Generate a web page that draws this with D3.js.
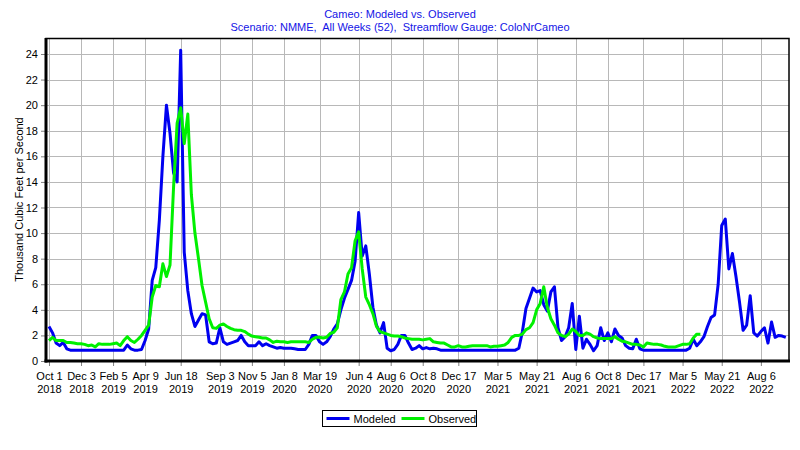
<!DOCTYPE html>
<html>
<head>
<meta charset="utf-8">
<script src="https://cdn.jsdelivr.net/npm/d3@7"></script>
<style>
  body { margin: 0; background: #fff; }
  svg { display: block; font-family: "Liberation Sans", Arial, sans-serif; }
</style>
</head>
<body>
<svg id="chart" width="800" height="450"></svg>
<script>
// ---------- data ----------
const titleLines = [
  "Cameo: Modeled vs. Observed",
  "Scenario: NMME,  All Weeks (52),  Streamflow Gauge: ColoNrCameo"
];
const yAxisTitle = "Thousand Cubic Feet per Second";
const seriesNames = ["Modeled", "Observed"];

// week index (52 weeks per water year, starting Oct 1 2018) of each date tick
const tickIndex = [0, 9, 18, 27, 37, 48, 57, 66, 76, 87, 96, 105, 115, 126, 137, 148, 157, 167, 178, 189, 200];
const tickDay = ["Oct 1", "Dec 3", "Feb 5", "Apr 9", "Jun 18", "Sep 3", "Nov 5", "Jan 8", "Mar 19", "Jun 4", "Aug 6",
                 "Oct 8", "Dec 17", "Mar 5", "May 21", "Aug 6", "Oct 8", "Dec 17", "Mar 5", "May 21", "Aug 6"];
const tickYear = ["2018", "2018", "2019", "2019", "2019", "2019", "2019", "2020", "2020", "2020", "2020",
                  "2020", "2020", "2021", "2021", "2021", "2021", "2021", "2022", "2022", "2022"];
const yTicks = [0, 2, 4, 6, 8, 10, 12, 14, 16, 18, 20, 22, 24];

// weekly flows, thousand cfs
const modeled = [
  2.7, 2.2, 1.4, 1.2, 1.45, 0.95, 0.85, 0.85, 0.85, 0.85,
  0.85, 0.85, 0.85, 0.85, 0.85, 0.85, 0.85, 0.85, 0.85, 0.85,
  0.85, 0.85, 1.25, 0.95, 0.85, 0.85, 0.9, 1.6, 2.5, 6.3,
  7.3, 11.0, 16.0, 20.0, 17.8, 14.7, 14.0, 24.3, 8.5, 5.5,
  3.7, 2.7, 3.2, 3.7, 3.6, 1.5, 1.35, 1.4, 2.6, 1.5,
  1.3, 1.4, 1.5, 1.6, 2.0, 1.5, 1.2, 1.2, 1.2, 1.5,
  1.2, 1.35, 1.2, 1.1, 1.0, 1.05, 1.0, 1.0, 1.0, 0.95,
  0.9, 0.9, 0.9, 1.3, 2.0, 2.0, 1.5, 1.3, 1.5, 1.9,
  2.5, 2.9, 4.0, 4.9, 5.6, 6.3, 7.8, 11.6, 8.2, 9.0,
  6.8, 4.2, 2.8, 2.2, 3.0, 1.0, 0.8, 0.9, 1.3, 2.0,
  2.0, 1.4, 0.9, 1.0, 1.2, 0.95, 1.05, 0.95, 1.0, 0.95,
  0.85, 0.85, 0.85, 0.85, 0.85, 0.85, 0.85, 0.85, 0.85, 0.85,
  0.85, 0.85, 0.85, 0.85, 0.85, 0.85, 0.85, 0.85, 0.85, 0.85,
  0.85, 0.85, 1.0, 2.3, 4.1, 4.9, 5.7, 5.4, 5.5, 4.4,
  3.9, 5.4, 5.8, 2.6, 1.6, 1.9, 2.6, 4.5, 0.9, 3.5,
  1.0, 1.7, 1.3, 0.8, 1.2, 2.6, 1.6, 2.2, 1.5, 2.5,
  2.0, 1.8, 1.2, 1.0, 0.95, 1.7, 0.95, 0.85, 0.85, 0.85,
  0.85, 0.85, 0.85, 0.85, 0.85, 0.85, 0.85, 0.85, 0.85, 0.85,
  1.0, 1.7, 1.2, 1.5, 1.9, 2.7, 3.4, 3.6, 6.0, 10.6,
  11.1, 7.2, 8.4, 6.6, 4.6, 2.4, 2.8, 5.1, 2.2, 1.95,
  2.3, 2.6, 1.4, 3.05, 1.85, 2.0, 1.95, 1.85
];
const observed = [
  1.6, 1.85, 1.6, 1.6, 1.6, 1.45, 1.45, 1.4, 1.35, 1.35,
  1.3, 1.2, 1.25, 1.1, 1.35, 1.3, 1.3, 1.3, 1.35, 1.4,
  1.2, 1.6, 1.9, 1.6, 1.45, 1.7, 2.0, 2.4, 2.8, 5.0,
  5.9, 5.8, 7.6, 6.6, 7.5, 13.6, 18.6, 19.8, 17.0, 19.3,
  13.0, 10.0, 8.0, 5.9, 4.6, 3.3, 2.6, 2.55, 2.8, 2.9,
  2.7, 2.55, 2.45, 2.4, 2.4, 2.3, 2.1, 1.95, 1.9, 1.85,
  1.8, 1.8, 1.65, 1.45, 1.55, 1.5, 1.5, 1.45, 1.5, 1.5,
  1.5, 1.5, 1.5, 1.45, 1.7, 1.85, 1.85, 1.8, 1.85, 2.15,
  2.25, 2.6, 4.8, 5.4, 6.8, 7.3, 9.4, 10.1, 7.2, 5.0,
  4.4, 3.7, 2.7, 2.3, 2.2, 2.1, 2.0, 1.95, 1.95, 1.9,
  1.8, 1.75, 1.7, 1.7, 1.7, 1.65, 1.7, 1.75, 1.5, 1.45,
  1.4, 1.4, 1.25, 1.1, 1.1, 1.2, 1.1, 1.1, 1.15, 1.2,
  1.2, 1.2, 1.2, 1.2, 1.1, 1.15, 1.15, 1.2, 1.25, 1.45,
  1.85, 2.0, 2.0, 2.1, 2.45, 2.6, 3.0, 4.0, 4.5, 5.8,
  4.2, 3.3, 2.8, 2.2, 2.0, 1.9, 2.1, 2.5, 2.3, 2.0,
  2.0, 2.2, 2.1, 1.9, 1.8, 1.75, 1.75, 1.75, 1.75, 1.9,
  1.7, 1.55, 1.5, 1.4, 1.3, 1.3, 1.25, 1.1, 1.4, 1.35,
  1.3, 1.3, 1.25, 1.15, 1.1, 1.1, 1.1, 1.2, 1.3, 1.3,
  1.35, 1.8, 2.1, 2.1
];

// ---------- drawing ----------
const svg = d3.select("#chart");
const plot = { left: 46, right: 789, top: 38, bottom: 361 };

const x = d3.scaleLinear().domain([-0.84, 207.9]).range([plot.left, plot.right]);
const y = d3.scaleLinear().domain([0, 25.25]).range([plot.bottom, plot.top]);

const blue = "#0000f0";
const green = "#00f000";
const titleBlue = "#1414e6";

// titles
svg.selectAll("text.title").data(titleLines).join("text")
  .attr("class", "title")
  .attr("x", 400)
  .attr("y", (d, i) => 18 + i * 12.5)
  .attr("text-anchor", "middle")
  .attr("fill", titleBlue)
  .style("font-size", "11px")
  .style("white-space", "pre")
  .text(d => d);

// grid
const grid = svg.append("g");
grid.selectAll("line.h").data(yTicks.filter(v => v > 0)).join("line")
  .attr("x1", plot.left).attr("x2", plot.right)
  .attr("y1", d => Math.round(y(d)) + 0.5).attr("y2", d => Math.round(y(d)) + 0.5)
  .attr("stroke", "#b8b8b8").attr("stroke-width", 1);
grid.selectAll("line.v").data(tickIndex).join("line")
  .attr("y1", plot.top).attr("y2", plot.bottom)
  .attr("x1", d => Math.round(x(d)) + 0.5).attr("x2", d => Math.round(x(d)) + 0.5)
  .attr("stroke", "#b8b8b8").attr("stroke-width", 1);

// y axis
const yAxis = svg.append("g")
  .attr("transform", `translate(${plot.left - 1},0)`)
  .call(d3.axisLeft(y).tickValues(yTicks).tickSize(4).tickPadding(3).tickFormat(d3.format("d")));
yAxis.select(".domain").remove();
yAxis.selectAll(".tick line").attr("stroke", "#808080");
yAxis.selectAll(".tick text").attr("fill", "#000").style("font-size", "11px")
  .style("font-family", "'Liberation Sans', Arial, sans-serif");

// x axis
const xAxis = svg.append("g")
  .attr("transform", `translate(0,${plot.bottom})`)
  .call(d3.axisBottom(x).tickValues(tickIndex).tickSize(5).tickFormat(""));
xAxis.select(".domain").remove();
xAxis.selectAll(".tick line").attr("stroke", "#808080");
xAxis.selectAll(".tick").each(function (d, i) {
  const t = d3.select(this).append("text")
    .attr("fill", "#000")
    .attr("text-anchor", "middle")
    .style("font-size", "11px")
    .style("font-family", "'Liberation Sans', Arial, sans-serif");
  t.append("tspan").attr("x", 0).attr("y", 19).text(tickDay[i]);
  t.append("tspan").attr("x", 0).attr("y", 32).text(tickYear[i]);
});

// y axis title
svg.append("text")
  .attr("transform", `translate(23,${(plot.top + plot.bottom) / 2}) rotate(-90)`)
  .attr("text-anchor", "middle")
  .style("font-size", "11px")
  .attr("fill", "#000")
  .text(yAxisTitle);

// series lines
const line = d3.line().x((d, i) => x(i)).y(d => y(d));
svg.append("path").datum(modeled)
  .attr("d", line).attr("fill", "none")
  .attr("stroke", blue).attr("stroke-width", 3).attr("stroke-linejoin", "round");
svg.append("path").datum(observed)
  .attr("d", line).attr("fill", "none")
  .attr("stroke", green).attr("stroke-width", 3).attr("stroke-linejoin", "round");

// frame
svg.append("rect")
  .attr("x", plot.left).attr("y", plot.top + 0.5)
  .attr("width", plot.right - plot.left).attr("height", plot.bottom - plot.top - 0.5)
  .attr("fill", "none").attr("stroke", "#000").attr("stroke-width", 1.5);
svg.append("line")
  .attr("x1", plot.left).attr("x2", plot.left).attr("y1", plot.top).attr("y2", plot.bottom + 1.5)
  .attr("stroke", "#000").attr("stroke-width", 3);
svg.append("line")
  .attr("x1", plot.left - 1.5).attr("x2", plot.right + 1).attr("y1", plot.bottom).attr("y2", plot.bottom)
  .attr("stroke", "#000").attr("stroke-width", 3);

// legend
const legend = svg.append("g").attr("transform", "translate(322.5,410.5)");
legend.append("rect").attr("width", 154).attr("height", 16)
  .attr("fill", "#fff").attr("stroke", "#000").attr("stroke-width", 1);
const legendItems = legend.selectAll("g.item").data(seriesNames).join("g")
  .attr("transform", (d, i) => `translate(${4 + i * 75},0)`);
legendItems.append("line")
  .attr("x1", 0).attr("x2", 23).attr("y1", 8).attr("y2", 8)
  .attr("stroke", (d, i) => i === 0 ? blue : green).attr("stroke-width", 3);
legendItems.append("text")
  .attr("x", 27).attr("y", 12)
  .style("font-size", "11px").attr("fill", "#000")
  .text(d => d);
</script>
</body>
</html>
